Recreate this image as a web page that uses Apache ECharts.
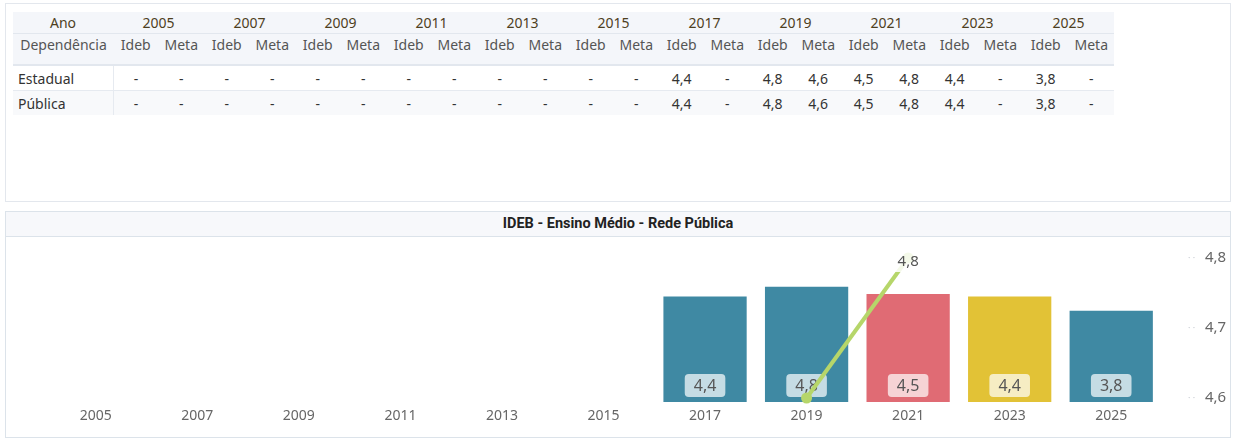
<!DOCTYPE html>
<html lang="pt-BR">
<head>
<meta charset="UTF-8">
<script src="https://cdn.jsdelivr.net/npm/echarts@6/dist/echarts.min.js"></script>
<title>IDEB - Ensino Médio - Rede Pública</title>
<style>
  body { margin: 0; background: #fff; font-family: "Noto Sans", sans-serif; }
  .painel { position: absolute; box-sizing: border-box; border: 1px solid #E3E7ED; background: #fff; }
  #tabela { position: absolute; left: 13px; top: 12px; border-collapse: collapse; table-layout: fixed; font-size: 14px; }
  #tabela td { padding: 0; text-align: center; white-space: nowrap; overflow: hidden; }
  #tabela tr.h1 td { height: 21px; color: #4E3F1E; background: #F4F6FA; border-bottom: 1px solid #E2E7EE; }
  #tabela tr.h2 td { height: 29px; color: #555; background: #F4F6FA; vertical-align: top; padding-top: 1px; border-bottom: 2px solid #E2E7EE; }
  #tabela tr.d td { height: 24px; color: #333; border-bottom: 1px solid #E6EAF0; }
  #tabela tr.d td:first-child { text-align: left; padding-left: 5px; border-right: 1px solid #E6EAF0; }
  #tabela tr.h2 td:first-child { padding-left: 1px; }
  #tabela tr.alt td { background: #F8F9FB; border-bottom: none; }
  #titulo { height: 24px; line-height: 23px; text-align: center; background: #F7F8FB; border-bottom: 1px solid #DCE3EA;
            font-family: Roboto, sans-serif; font-weight: bold; font-size: 14.5px; color: #222; }
  #main { position: absolute; left: 0; top: 237px; width: 1234px; height: 200px; }
</style>
</head>
<body>
<div class="painel" style="left:5px; top:3px; width:1226px; height:199px;"></div>
<table id="tabela"></table>
<div class="painel" style="left:5px; top:211px; width:1226px; height:227px; border-color:#DCE3EA;">
  <div id="titulo">IDEB - Ensino Médio - Rede Pública</div>
</div>
<div id="main"></div>
<script type="text/javascript">
    var anos = ['2005', '2007', '2009', '2011', '2013', '2015', '2017', '2019', '2021', '2023', '2025'];
    var ideb = [null, null, null, null, null, null, 4.4, 4.8, 4.5, 4.4, 3.8];
    var meta = [null, null, null, null, null, null, null, 4.6, 4.8, null, null];
    var dependencias = ['Estadual', 'Pública'];
    var metaTicks = [4.6, 4.7, 4.8];

    function fmt(v) {
        return (v === null || v === undefined) ? '-' : v.toFixed(1).replace('.', ',');
    }

    // tabela
    var html = '<colgroup><col style="width:100px">';
    for (var i = 0; i < anos.length * 2; i++) html += '<col style="width:45.5px">';
    html += '</colgroup>';
    html += '<tr class="h1"><td>Ano</td>';
    anos.forEach(function (a) { html += '<td colspan="2">' + a + '</td>'; });
    html += '</tr><tr class="h2"><td>Dependência</td>';
    anos.forEach(function () { html += '<td>Ideb</td><td>Meta</td>'; });
    html += '</tr>';
    dependencias.forEach(function (d, k) {
        html += '<tr class="d' + (k === 1 ? ' alt' : '') + '"><td>' + d + '</td>';
        anos.forEach(function (a, j) { html += '<td>' + fmt(ideb[j]) + '</td><td>' + fmt(meta[j]) + '</td>'; });
        html += '</tr>';
    });
    document.getElementById('tabela').innerHTML = html;

    // cores
    var azul = '#3F89A3';
    var verde = '#B6D66A';
    var destaque = { '2021': '#E06B74', '2023': '#E2C236' };

    // só o último ponto da meta recebe rótulo
    var ultimaMeta = -1;
    meta.forEach(function (v, i) { if (v !== null) ultimaMeta = i; });

    var myChart = echarts.init(document.getElementById('main'));
    var option = {
        animation: false,
        textStyle: { fontFamily: 'Noto Sans' },
        grid: [
            { left: 45, right: 72, top: 21, bottom: 35 },  // barras
            { left: 45, right: 72, top: 21, bottom: 39 }   // meta
        ],
        xAxis: [{
            type: 'category',
            gridIndex: 0,
            data: anos,
            axisLine: { show: false },
            axisTick: { show: false },
            axisLabel: { color: '#666', fontSize: 14, margin: 7 }
        }, {
            type: 'category',
            gridIndex: 1,
            data: anos,
            show: false
        }],
        yAxis: [{
            type: 'value',
            gridIndex: 0,
            min: 0,
            max: 6,
            show: false
        }, {
            type: 'value',
            gridIndex: 1,
            position: 'right',
            min: 4.6,
            max: 4.8,
            interval: 0.1,
            splitLine: { show: false },
            axisLine: { show: false },
            axisTick: { show: false },
            axisLabel: {
                margin: 26,
                formatter: function (v) {
                    var t = metaTicks.filter(function (m) { return Math.abs(m - v) < 1e-6; });
                    return t.length ? '{d|· ·}{v|' + fmt(t[0]) + '}' : '';
                },
                rich: {
                    d: { color: '#C8CCD2', fontSize: 9, width: 17 },
                    v: { color: '#666', fontSize: 15 }
                }
            }
        }],
        series: [{
            type: 'bar',
            xAxisIndex: 0,
            yAxisIndex: 0,
            barCategoryGap: '18%',
            data: ideb.map(function (v, i) {
                return { value: v, itemStyle: { color: destaque[anos[i]] || azul } };
            }),
            label: {
                show: true,
                position: 'insideBottom',
                distance: 5,
                formatter: function (p) { return fmt(p.value); },
                color: '#555',
                fontSize: 16,
                lineHeight: 18,
                backgroundColor: 'rgba(255,255,255,0.7)',
                borderRadius: 4,
                padding: [3, 9, 2, 9]
            }
        }, {
            type: 'line',
            xAxisIndex: 1,
            yAxisIndex: 1,
            data: meta,
            connectNulls: false,
            showSymbol: false,
            lineStyle: { color: verde, width: 4 },
            z: 5
        }, {
            type: 'scatter',
            xAxisIndex: 1,
            yAxisIndex: 1,
            clip: false,
            symbol: 'circle',
            symbolSize: 11,
            itemStyle: { color: verde, opacity: 1 },
            z: 6,
            data: meta.map(function (v, i) {
                return i === ultimaMeta ? { value: v, label: { show: true } } : v;
            }),
            label: {
                show: false,
                position: 'inside',
                offset: [0, 4],
                formatter: function (p) { return fmt(p.value); },
                color: '#555',
                fontSize: 15,
                backgroundColor: 'rgba(255,255,255,0.85)',
                borderRadius: 3,
                padding: [3, 5, 2, 5]
            }
        }]
    };
    myChart.setOption(option);
</script>
</body>
</html>
